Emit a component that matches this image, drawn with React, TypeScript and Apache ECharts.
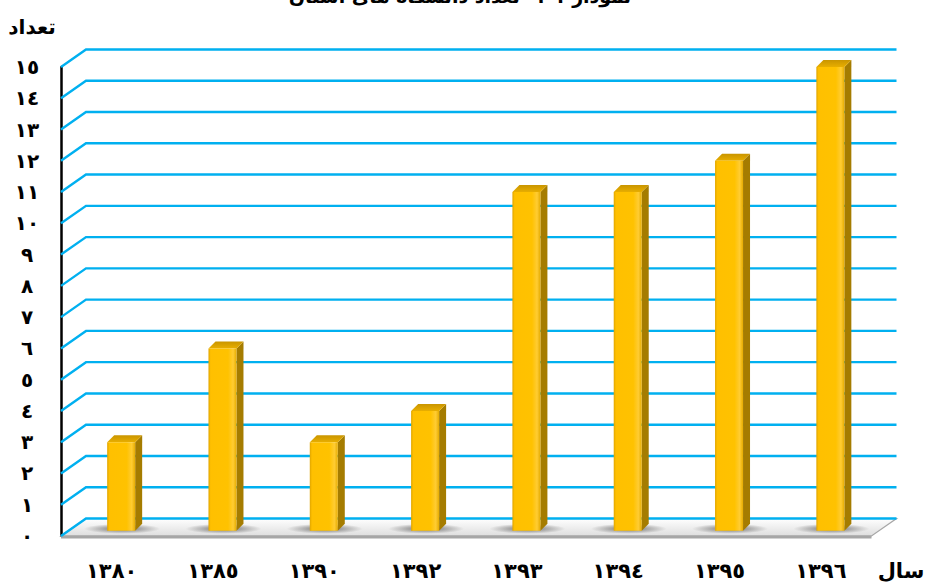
import React, { useEffect, useRef } from "react";
import * as echarts from "echarts";

const titleText = "نمودار ۱-۱- تعداد دانشگاه های استان";
const yName = "تعداد";
const xName = "سال";
const years = ["١٣٨٠", "١٣٨٥", "١٣٩٠", "١٣٩٢", "١٣٩٣", "١٣٩٤", "١٣٩٥", "١٣٩٦"];
const counts = [3, 6, 3, 4, 11, 11, 12, 15];
const yTickValues = [0, 1, 2, 3, 4, 5, 6, 7, 8, 9, 10, 11, 12, 13, 14, 15];
const yTickLabels = ["٠", "١", "٢", "٣", "٤", "٥", "٦", "٧", "٨", "٩", "١٠", "١١", "١٢", "١٣", "١٤", "١٥"];

const FONT = "'DejaVu Sans', 'Noto Sans', sans-serif";
const DX = 12.5;
const DY = 8.75;
const BLUE = "#00B0F0";

export default function App() {
  const ref = useRef<HTMLDivElement>(null);
  useEffect(() => {
    document.body.style.margin = "0";
    const chart = echarts.init(ref.current!, null, { renderer: "svg" });
    const option: any = {
      animation: false,
      backgroundColor: "#ffffff",
      grid: [
        { left: 73.5, right: 42, top: 58.25, bottom: 57.75 },
        { left: 61, right: 54.5, top: 67, bottom: 49 },
      ],
      xAxis: [
        { type: "category", data: years, gridIndex: 0, show: false },
        {
          type: "category",
          data: years,
          gridIndex: 1,
          axisLine: { show: false },
          axisTick: { show: false },
          axisLabel: {
            margin: 24,
            fontSize: 21,
            fontWeight: "bold",
            color: "#000",
            fontFamily: FONT,
          },
        },
      ],
      yAxis: [
        { type: "value", min: 0, max: 15, interval: 1, gridIndex: 0, show: false },
        {
          type: "value",
          min: 0,
          max: 15,
          interval: 1,
          gridIndex: 1,
          splitLine: { show: false },
          axisTick: { show: false },
          axisLine: { show: true, lineStyle: { color: "#000", width: 2.5 } },
          axisLabel: {
            align: "center",
            margin: 34,
            fontSize: 20,
            fontWeight: "bold",
            color: "#000",
            fontFamily: FONT,
            formatter: (v: number) => yTickLabels[yTickValues.indexOf(v)] ?? "",
          },
        },
      ],
      graphic: [
        {
          type: "text",
          x: 460,
          y: 5,
          style: {
            text: titleText,
            align: "center",
            verticalAlign: "bottom",
            fontSize: 19,
            fontWeight: "bold",
            fill: "#000",
            fontFamily: FONT,
          },
        },
        {
          type: "text",
          x: 32,
          y: 27,
          style: {
            text: yName,
            align: "center",
            verticalAlign: "middle",
            fontSize: 20,
            fontWeight: "bold",
            fill: "#000",
            fontFamily: FONT,
          },
        },
        {
          type: "text",
          x: 901,
          y: 571,
          style: {
            text: xName,
            align: "center",
            verticalAlign: "middle",
            fontSize: 21,
            fontWeight: "bold",
            fill: "#000",
            fontFamily: FONT,
          },
        },
      ],
      series: [
        {
          type: "custom",
          name: "floor",
          xAxisIndex: 0,
          yAxisIndex: 0,
          z: 1,
          silent: true,
          data: [[0, 0]],
          renderItem: (params: any, api: any) => {
            const cs = params.coordSys;
            const y0 = api.coord([0, 0])[1];
            const x0 = cs.x;
            const x1 = cs.x + cs.width;
            return {
              type: "group",
              children: [
                {
                  type: "polygon",
                  shape: {
                    points: [
                      [x0 - DX, y0 + DY],
                      [x1 - DX, y0 + DY],
                      [x1 + DX, y0 - DY],
                      [x0 + DX, y0 - DY],
                    ],
                  },
                  style: {
                    fill: new echarts.graphic.LinearGradient(0, 0, 0, 1, [
                      { offset: 0, color: "#ffffff" },
                      { offset: 1, color: "#dedede" },
                    ]),
                    stroke: "#a6a6a6",
                    lineWidth: 1.2,
                  },
                },
                {
                  type: "line",
                  shape: { x1: x0 - DX, y1: y0 + DY + 1, x2: x1 - DX, y2: y0 + DY + 1 },
                  style: { stroke: "#a6a6a6", lineWidth: 3 },
                },
              ],
            };
          },
        },
        {
          type: "custom",
          name: "grid",
          xAxisIndex: 0,
          yAxisIndex: 0,
          z: 2,
          silent: true,
          data: yTickValues.map((v) => [0, v]),
          renderItem: (params: any, api: any) => {
            const cs = params.coordSys;
            const y = api.coord([0, api.value(1)])[1];
            return {
              type: "polyline",
              shape: {
                points: [
                  [cs.x - DX, y + DY],
                  [cs.x + DX, y - DY],
                  [cs.x + cs.width + DX, y - DY],
                ],
              },
              style: { stroke: BLUE, lineWidth: 2.4, fill: null },
            };
          },
        },
        {
          type: "custom",
          name: "bars",
          xAxisIndex: 0,
          yAxisIndex: 0,
          z: 3,
          data: counts.map((v, i) => [i, v]),
          renderItem: (params: any, api: any) => {
            const p = api.coord([api.value(0), api.value(1)]);
            const b = api.coord([api.value(0), 0]);
            const L = p[0] - 17;
            const R = L + 28;
            const T = p[1] + DY;
            const B = b[1] + 3.5;
            const d = 7;
            return {
              type: "group",
              children: [
                {
                  type: "ellipse",
                  shape: { cx: p[0] - 2, cy: B - 2, rx: 38, ry: 5 },
                  style: {
                    fill: new echarts.graphic.RadialGradient(0.5, 0.5, 0.5, [
                      { offset: 0, color: "rgba(0,0,0,0.55)" },
                      { offset: 1, color: "rgba(0,0,0,0)" },
                    ]),
                  },
                },
                {
                  type: "polygon",
                  shape: {
                    points: [
                      [R, T],
                      [R + d, T - d],
                      [R + d, B - d],
                      [R, B],
                    ],
                  },
                  style: { fill: "#A57C00" },
                },
                {
                  type: "polygon",
                  shape: {
                    points: [
                      [L, T],
                      [L + d, T - d],
                      [R + d, T - d],
                      [R, T],
                    ],
                  },
                  style: {
                    fill: new echarts.graphic.LinearGradient(0, 0, 0, 1, [
                      { offset: 0, color: "#C99500" },
                      { offset: 1, color: "#E8AE00" },
                    ]),
                  },
                },
                {
                  type: "rect",
                  shape: { x: L, y: T, width: R - L, height: B - T },
                  style: {
                    fill: new echarts.graphic.LinearGradient(0, 0, 1, 0, [
                      { offset: 0, color: "#E0A500" },
                      { offset: 0.08, color: "#FFC000" },
                      { offset: 0.7, color: "#FFC200" },
                      { offset: 0.88, color: "#FFCC33" },
                      { offset: 1, color: "#E6AC00" },
                    ]),
                  },
                },
              ],
            };
          },
        },
      ],
    };
    chart.setOption(option);
    return () => chart.dispose();
  }, []);
  return <div ref={ref} style={{ width: 926, height: 585 }} />;
}
